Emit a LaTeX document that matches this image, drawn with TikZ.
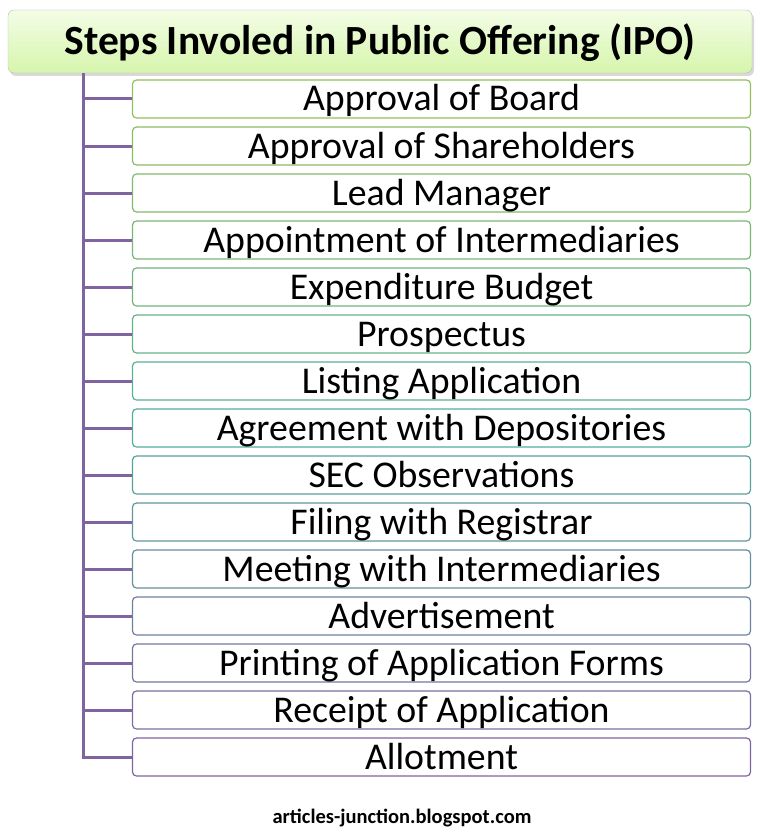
\documentclass[tikz,border=0pt]{standalone}
\usepackage{fontspec}
\setmainfont{Carlito}
\usetikzlibrary{shadows}
\definecolor{stepgreen}{RGB}{150,190,90}
\definecolor{stepteal}{RGB}{85,172,155}
\definecolor{steppurple}{RGB}{128,100,162}
\definecolor{headtop}{RGB}{243,253,230}
\definecolor{headbot}{RGB}{214,245,172}

\begin{document}
\begin{tikzpicture}[x=1pt,y=-1pt,
        headbox/.style={draw=gray!55,rounded corners=6pt,top color=headtop,bottom color=headbot,
            drop shadow={shadow xshift=2pt,shadow yshift=-3pt,opacity=0.3},
            minimum width=744pt,minimum height=63pt,inner sep=0pt,text height=27pt,text depth=0pt,
            font=\bfseries\fontsize{41.5}{44}\selectfont},
        stepbox/.style={draw,line width=1.2pt,rounded corners=4pt,fill=white,minimum width=618pt,
            minimum height=38pt,inner sep=0pt,text height=24pt,text depth=0pt,
            font=\fontsize{37.8}{40}\selectfont},
        trunk/.style={draw=steppurple,line width=3pt}]

    \useasboundingbox (0,0) rectangle (763,832);

    \node[headbox] (head) at (380,41.5) {Steps Involed in Public Offering (IPO)};
    \coordinate (top) at (83,73);

    \foreach \txt [count=\i] in {Approval of Board,Approval of Shareholders,Lead Manager,
            Appointment of Intermediaries,Expenditure Budget,Prospectus,Listing Application,
            Agreement with Depositories,SEC Observations,Filing with Registrar,
            Meeting with Intermediaries,Advertisement,Printing of Application Forms,
            Receipt of Application,Allotment}{
        \ifnum\i<9
            \pgfmathtruncatemacro\p{100-(\i-1)*100/7}
            \colorlet{rimcol}{stepgreen!\p!stepteal}
        \else
            \pgfmathtruncatemacro\p{100-(\i-8)*100/7}
            \colorlet{rimcol}{stepteal!\p!steppurple}
        \fi
        \node[stepbox,draw=rimcol] (s\i) at (441.5,{99+47*(\i-1)}) {\txt};
        \draw[trunk] (s\i.west -| top) -- (s\i.west);
    }

    \draw[trunk] (top) |- (s15.west);

    \node[font=\bfseries\fontsize{20.5}{22}\selectfont,anchor=base] (site) at (402,823) {articles-junction.blogspot.com};

\end{tikzpicture}
\end{document}
